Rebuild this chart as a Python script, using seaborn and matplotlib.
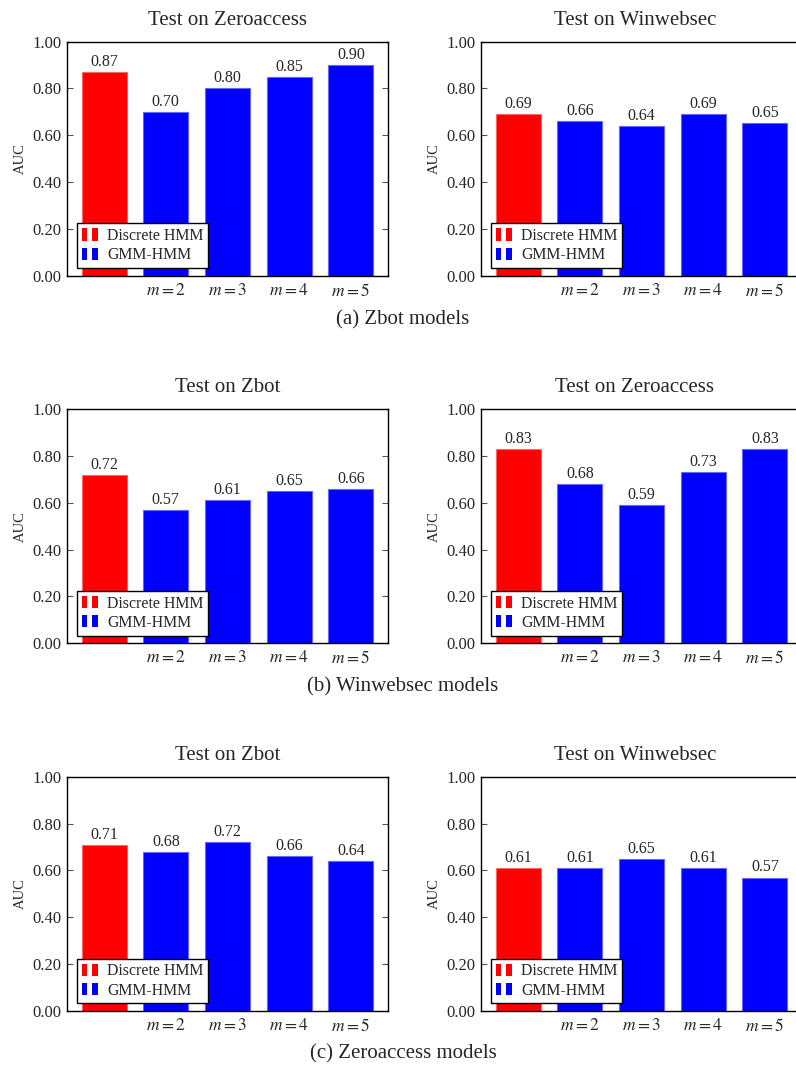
import matplotlib
matplotlib.use("Agg")
import matplotlib.pyplot as plt
import seaborn as sns
import pandas as pd
from matplotlib.patches import Rectangle, Patch
from matplotlib.legend_handler import HandlerBase

# ---------------- data ----------------
categories = ["HMM", "$m=2$", "$m=3$", "$m=4$", "$m=5$"]
models = ["Discrete HMM", "GMM-HMM", "GMM-HMM", "GMM-HMM", "GMM-HMM"]

zbot_on_zeroaccess = [0.87, 0.70, 0.80, 0.85, 0.90]
zbot_on_winwebsec = [0.69, 0.66, 0.64, 0.69, 0.65]
winwebsec_on_zbot = [0.72, 0.57, 0.61, 0.65, 0.66]
winwebsec_on_zeroaccess = [0.83, 0.68, 0.59, 0.73, 0.83]
zeroaccess_on_zbot = [0.71, 0.68, 0.72, 0.66, 0.64]
zeroaccess_on_winwebsec = [0.61, 0.61, 0.65, 0.61, 0.57]

titles = [["Test on Zeroaccess", "Test on Winwebsec"],
          ["Test on Zbot", "Test on Zeroaccess"],
          ["Test on Zbot", "Test on Winwebsec"]]
panel_values = [[zbot_on_zeroaccess, zbot_on_winwebsec],
                [winwebsec_on_zbot, winwebsec_on_zeroaccess],
                [zeroaccess_on_zbot, zeroaccess_on_winwebsec]]
captions = ["(a) Zbot models", "(b) Winwebsec models", "(c) Zeroaccess models"]
yticks = [0.0, 0.2, 0.4, 0.6, 0.8, 1.0]
xtick_labels = ["", "$m=2$", "$m=3$", "$m=4$", "$m=5$"]

palette = {"Discrete HMM": "#ff0000", "GMM-HMM": "#0000ff"}
edge = {"Discrete HMM": "#ff6666", "GMM-HMM": "#6666ff"}

# ---------------- style ----------------
sns.set_style("ticks")
plt.rcParams["font.family"] = ["Liberation Serif", "DejaVu Serif"]
plt.rcParams["mathtext.fontset"] = "stix"


class TwoBarHandler(HandlerBase):
    def create_artists(self, legend, orig_handle, xdescent, ydescent,
                       width, height, fontsize, trans):
        fc = orig_handle.get_facecolor()
        w = width * 0.36
        x0, y0 = -xdescent, -ydescent
        r1 = Rectangle((x0, y0), w, height, facecolor=fc, edgecolor="none",
                       transform=trans)
        r2 = Rectangle((x0 + width - w, y0), w, height, facecolor=fc,
                       edgecolor="none", transform=trans)
        return [r1, r2]


W, H = 796, 1068
fig = plt.figure(figsize=(W / 100, H / 100), dpi=100)

row_bottoms_px = [275.7, 643.3, 1011.0]
ax_h_px = 234.2
col_left_px = [67.0, 481.0]
ax_w_px = 321.0
title_x = [0.5, 0.479]
caption_y_px = [320, 687, 1054]

for r in range(3):
    for c in range(2):
        left = col_left_px[c] / W
        bottom = 1 - row_bottoms_px[r] / H
        ax = fig.add_axes([left, bottom, ax_w_px / W, ax_h_px / H])
        df = pd.DataFrame({"cat": categories, "auc": panel_values[r][c],
                           "model": models})
        sns.barplot(data=df, x="cat", y="auc", hue="model", order=categories,
                    hue_order=["Discrete HMM", "GMM-HMM"], palette=palette,
                    dodge=False, width=0.73, ax=ax, legend=False,
                    linewidth=0.8, saturation=1)
        for cont, lab in zip(ax.containers, ["Discrete HMM", "GMM-HMM"]):
            for p in cont:
                p.set_edgecolor(edge[lab])
            ax.bar_label(cont, fmt="%.2f", padding=1.5, fontsize=11.5)
        ax.set_xlim(-0.6, 4.6)
        ax.set_ylim(0, 1.0)
        ax.set_yticks(yticks)
        ax.set_yticklabels([f"{v:.2f}" for v in yticks], fontsize=12)
        ax.set_xticks(range(len(categories)))
        ax.set_xticklabels(xtick_labels, fontsize=12.5)
        ax.tick_params(axis="x", length=0, pad=5)
        ax.tick_params(axis="y", direction="in", left=True, right=True,
                       length=4, width=0.8, color="#555555", pad=4)
        ax.set_xlabel("")
        ax.set_ylabel("AUC", fontsize=10.5, labelpad=4)
        for s in ax.spines.values():
            s.set_visible(True)
            s.set_color("black")
            s.set_linewidth(1.0)
        ax.set_title(titles[r][c], fontsize=15, pad=12, x=title_x[c])
        handles = [Patch(facecolor=palette["Discrete HMM"]),
                   Patch(facecolor=palette["GMM-HMM"])]
        leg = ax.legend(handles, ["Discrete HMM", "GMM-HMM"],
                        handler_map={Patch: TwoBarHandler()},
                        loc="lower left", bbox_to_anchor=(0.031, 0.033),
                        borderaxespad=0, fontsize=11.4, frameon=True,
                        fancybox=False, framealpha=1, edgecolor="black",
                        handlelength=1.0, handleheight=0.8,
                        handletextpad=0.6, labelspacing=0.2, borderpad=0.3)
        leg.get_frame().set_linewidth(1.0)
    fig.text(403 / W, 1 - caption_y_px[r] / H, captions[r], ha="center",
             va="center", fontsize=15)

fig.savefig("out.png", dpi=100)
